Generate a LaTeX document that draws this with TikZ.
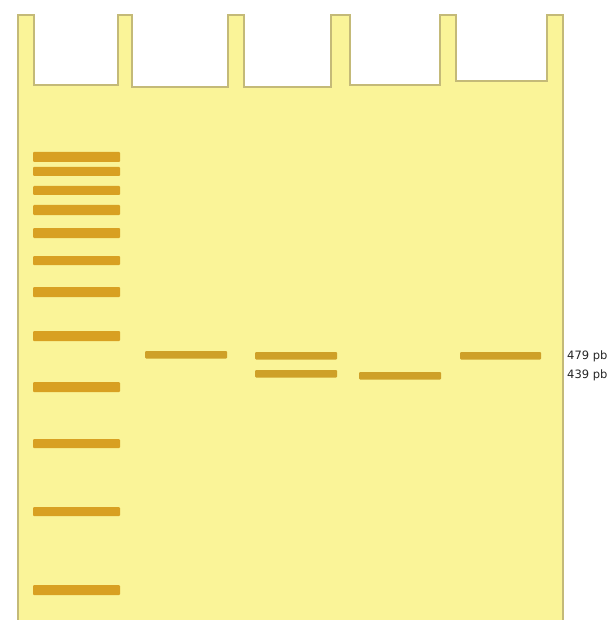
\documentclass[tikz,border=0pt]{standalone}
\usepackage{fontspec}
\setmainfont{DejaVu Sans}
\definecolor{gel}{RGB}{250,244,152}
\definecolor{gelline}{RGB}{196,186,120}
\definecolor{bandc}{RGB}{216,160,34}
\definecolor{sbandc}{RGB}{206,160,40}
\tikzset{
  gelbody/.style={fill=gel, draw=gelline, line width=1.3pt, line join=miter},
  ladder/.style={fill=bandc, rounded corners=1pt},
  sband/.style={fill=sbandc, rounded corners=1pt},
  sizelabel/.style={font=\fontsize{11.5}{13}\selectfont, text=black!85, anchor=west, inner sep=0pt}
}
\begin{document}
\begin{tikzpicture}[x=1pt,y=-1pt]
\useasboundingbox (0,0) rectangle (615,620);
\fill[white] (0,0) rectangle (615,620);
% gel with wells
\path[gelbody] (18,621) -- (18,15) -- (34,15) -- (34,85) -- (118,85) -- (118,15)
  -- (132,15) -- (132,87) -- (228,87) -- (228,15) -- (244,15) -- (244,87)
  -- (331,87) -- (331,15) -- (350,15) -- (350,85) -- (440,85) -- (440,15)
  -- (456,15) -- (456,81) -- (547,81) -- (547,15) -- (563,15) -- (563,621);
% ladder
\foreach \ya/\yb in {152/162, 167/176, 186/195, 205/215, 228/238, 256/265, 287/297,
                     331/341, 382/392, 439/448, 507/516, 585/595}{
  \path[ladder] (33,\ya) rectangle (120,\yb);
}
% sample bands
\path[sband] (145,351) rectangle (227,358.5);
\path[sband] (255,352) rectangle (337,359.5);
\path[sband] (255,370) rectangle (337,377.5);
\path[sband] (359,372) rectangle (441,379.5);
\path[sband] (460,352) rectangle (541,359.5);
% labels
\node[sizelabel] (l479) at (567,356) {479 pb};
\node[sizelabel] (l439) at (567,375.5) {439 pb};
\end{tikzpicture}
\end{document}
